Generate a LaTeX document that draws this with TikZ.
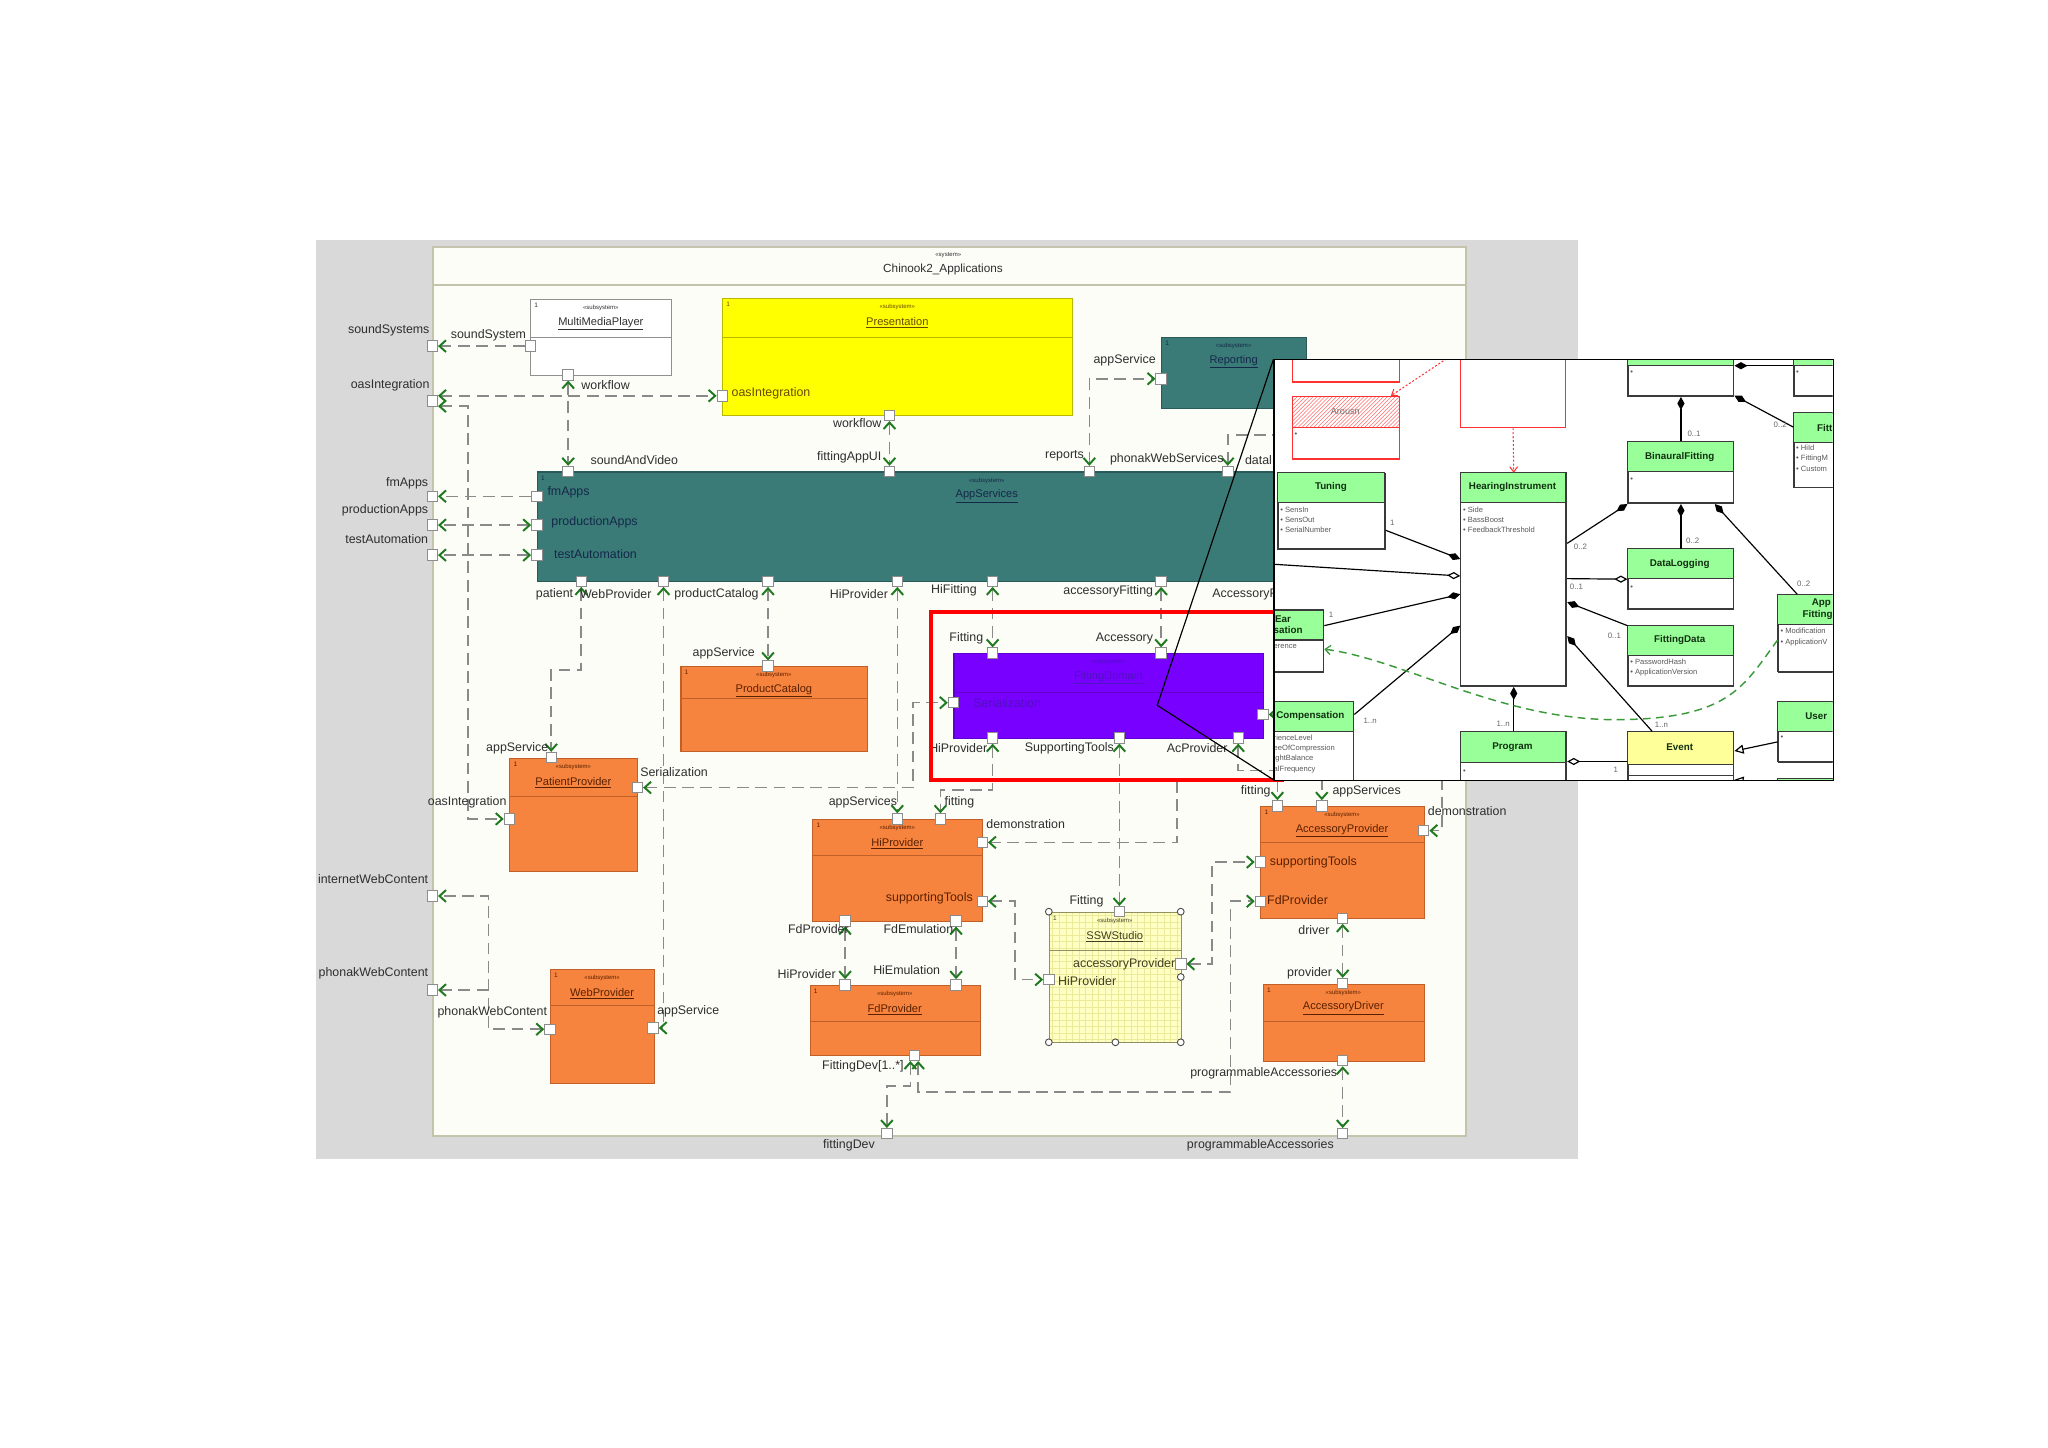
\documentclass[tikz,border=0pt]{standalone}
\usepackage{fontspec}
\setmainfont{Liberation Sans}
\usetikzlibrary{arrows.meta,patterns}
\definecolor{bgray}{HTML}{D9D9D9}
\definecolor{frameb}{HTML}{C4C4AC}
\definecolor{framef}{HTML}{FDFDF8}
\definecolor{lgray}{HTML}{8A8A8A}
\definecolor{arrg}{HTML}{1E7A1E}
\definecolor{portc}{HTML}{8C8C8C}
\definecolor{labc}{HTML}{2E2E2E}
\definecolor{whd}{HTML}{909090}\definecolor{whf}{HTML}{FFFFFF}\definecolor{wht}{HTML}{303030}
\definecolor{yed}{HTML}{B8B800}\definecolor{yef}{HTML}{FFFF00}\definecolor{yet}{HTML}{6A4A00}
\definecolor{ted}{HTML}{2A5A58}\definecolor{tef}{HTML}{3B7B77}\definecolor{tet}{HTML}{14284A}
\definecolor{ord}{HTML}{C06028}\definecolor{orf}{HTML}{F7843E}\definecolor{ort}{HTML}{5A2000}
\definecolor{ssd}{HTML}{909060}\definecolor{ssf}{HTML}{FFFFC4}\definecolor{sst}{HTML}{404020}
\definecolor{pud}{HTML}{6000D0}\definecolor{puf}{HTML}{7700FF}\definecolor{put}{HTML}{5210C0}
\definecolor{sswg}{HTML}{EAEA9A}
\definecolor{umlb}{HTML}{3A3A3A}
\definecolor{umlg}{HTML}{99FF99}
\definecolor{evy}{HTML}{FFFF99}
\definecolor{redb}{HTML}{FF3030}
\definecolor{curveg}{HTML}{3A9A3A}
\definecolor{umlt}{HTML}{103010}
\tikzset{
 tipg/.tip={Straight Barb[length=5pt,width=9pt,line width=1.5pt,color=arrg]},
 fdia/.tip={Diamond[length=10pt,width=5.5pt,color=black]},
 odia/.tip={Diamond[length=10pt,width=5.5pt,color=black,fill=white]},
 otri/.tip={Triangle[length=7pt,width=7pt,color=black,fill=white]},
 tipgc/.tip={Straight Barb[length=4pt,width=7pt,line width=1pt,color=curveg]},
 tipr/.tip={Straight Barb[length=4pt,width=6pt,line width=0.8pt,color=redb]},
 port/.style={draw=portc, fill=white, line width=0.7pt, minimum size=8pt, inner sep=0pt, rectangle},
 conn/.style={draw=lgray, line width=1.2pt, dash pattern=on 9pt off 5pt},
 lab/.style={font=\fontsize{9.5}{10}\selectfont, text=labc, inner sep=0pt},
 uml/.style={draw=black, line width=0.9pt},
 utitle/.style={font=\bfseries\fontsize{7.5}{8}\selectfont, text=umlt, inner sep=0pt},
 uattr/.style={font=\fontsize{5.8}{6}\selectfont, text=labc!80, inner sep=0pt, anchor=west},
 umult/.style={font=\fontsize{6}{6}\selectfont, text=black!60, inner sep=0pt},
 whbx/.style={draw=whd, fill=whf},
 yebx/.style={draw=yed, fill=yef},
 tebx/.style={draw=ted, fill=tef},
 orbx/.style={draw=ord, fill=orf},
 ssbx/.style={draw=ssd},
 pubx/.style={draw=pud, fill=puf},
}
\pgfdeclarelayer{back}
\pgfdeclarelayer{lines}
\pgfsetlayers{back,lines,main}
% subsystem box: name x1 y1 x2 y2 sepY style title
\newcommand{\ssbox}[8]{%
 \node[#7bx, line width=0.8pt, anchor=north west, minimum width={(#4-#2)*1pt}, minimum height={(#5-#3)*1pt}, inner sep=0pt] (#1) at (#2,#3) {};
 \draw[#7d, line width=0.6pt] (#2,#6) -- (#4,#6);
 \node[text=#7t, font=\fontsize{5}{5}\selectfont, anchor=north west, inner sep=0pt] (#1-one) at (#2+3,#3+3) {1};
 \node[text=#7t, font=\fontsize{4.6}{5}\selectfont, inner sep=0pt] (#1-st) at ({(#2+#4)/2},#3+7) {«subsystem»};
 \node[text=#7t, font=\fontsize{8.5}{9}\selectfont, inner sep=0pt] (#1-ti) at ({(#2+#4)/2},#3+19) {\underline{#8}};
}
% uml class: name x1 y1 x2 y2 headerY fill
\newcommand{\umlc}[7]{%
 \node[draw=umlb, fill=white, line width=0.9pt, anchor=north west, minimum width={(#4-#2)*1pt}, minimum height={(#5-#3)*1pt}, inner sep=0pt] (#1) at (#2,#3) {};
 \fill[#7] (#2,#3) rectangle (#4,#6);
 \draw[umlb, line width=0.9pt] (#2,#3) rectangle (#4,#5) (#2,#6) -- (#4,#6);
}
\newcommand{\lb}[6][]{\node[lab,anchor=#3,#1] (#2) at (#4,#5) {#6};}
\begin{document}
\begin{tikzpicture}[x=1pt,y=-1pt]
\useasboundingbox (0,0) rectangle (1568,1108);
\begin{pgfonlayer}{back}
\fill[white] (0,0) rectangle (1568,1108);
\fill[bgray] (242,184) rectangle (1208,887);
\node[draw=frameb, fill=framef, line width=1.5pt, anchor=north west, minimum width=791pt, minimum height=681pt, inner sep=0pt] (frame) at (331,188) {};
\draw[frameb, line width=1.5pt] (331,218) -- (1122,218);
\node[text=labc, font=\fontsize{4.6}{5}\selectfont, inner sep=0pt] (frame-st) at (726,195) {«system»};
\node[text=labc, font=\fontsize{9}{10}\selectfont, inner sep=0pt] (frame-ti) at (722,206) {Chinook2\_Applications};
\end{pgfonlayer}

% SSWStudio background with grid (drawn before its box)
\fill[ssf] (803,698) rectangle (904,798);
\begin{scope}
\clip (803.5,698.5) rectangle (903.5,797.5);
\foreach \gx in {806,811,...,901} \draw[sswg, line width=0.4pt] (\gx,698) -- (\gx,798);
\foreach \gy in {701,706,...,796} \draw[sswg, line width=0.4pt] (803,\gy) -- (904,\gy);
\end{scope}

% ---------- subsystems ----------
\ssbox{mmp}{406}{229}{514}{287}{258}{wh}{MultiMediaPlayer}
\ssbox{pres}{553}{228}{821}{318}{258}{ye}{Presentation}
\ssbox{rep}{889}{258}{1000}{312}{258}{te}{Reporting}
\ssbox{apps}{411}{361}{1100}{445}{361}{te}{AppServices}
\ssbox{pc}{521}{510}{664}{575}{535}{or}{ProductCatalog}
\ssbox{pp}{390}{580}{488}{667}{610}{or}{PatientProvider}
\ssbox{wp}{421}{742}{501}{829}{770}{or}{WebProvider}
\ssbox{hp}{622}{627}{752}{705}{655}{or}{HiProvider}
\ssbox{fdp}{620}{754}{750}{808}{782}{or}{FdProvider}
\ssbox{ssw}{803}{698}{904}{798}{728}{ss}{SSWStudio}
\ssbox{fd}{730}{500}{967}{565}{530}{pu}{FittingDomain}
\ssbox{ap}{965}{617}{1090}{703}{645}{or}{AccessoryProvider}
\ssbox{ad}{967}{753}{1090}{812}{782}{or}{AccessoryDriver}
\foreach \hx/\hy in {803/698,904/698,803/798,854/798,904/798,904/748}
  \draw[black!70, fill=white, line width=0.7pt] (\hx,\hy) circle (2.6pt);

% ---------- ports ----------
\foreach \n/\px/\py in {F_ss/331/265, F_oas/331/307, F_fm/331/380, F_pa/331/402, F_ta/331/425, F_iwc/331/686, F_pwc/331/758, F_fdev/679/868, F_pacc/1028/868,
 M_ss/406/265, M_wf/435/287, P_oas/553/303, P_wf/681/318, R_as/889/290,
 A_sav/435/361, A_fau/681/361, A_rep/834/361, A_pws/940/361, A_fm/411/380, A_pa/411/402, A_ta/411/425,
 A_pat/445/445, A_wp/508/445, A_pc/588/445, A_hp/687/445, A_hf/760/445, A_af/889/445,
 C_as/588/510, Q_as/422/580, Q_ser/488/603, Q_oas/390/627, W_pwc/421/788, W_as/500/787,
 H_as/687/627, H_fit/720/627, H_dem/752/645, H_st/752/690, H_fdp/647/705, H_fde/732/705,
 D_hp/647/754, D_he/732/754, D_fd/700/808, S_fit/857/698, S_hp/803/750, S_acc/904/738,
 G_fit/760/500, G_acc/889/500, G_left/730/538, G_right/967/547, G_hp/760/565, G_st/857/565, G_ac/948/565,
 K_fit/978/617, K_as/1012/617, K_dem/1090/636, K_st/965/660, K_fd/965/690, K_drv/1028/703,
 L_prov/1028/753, L_pa/1028/812}
  \node[port] (\n) at (\px,\py) {};

% ---------- connectors ----------
\coordinate (pwsEnd) at (990,333);
\coordinate (demTop) at (901,598);
\coordinate (wj) at (374,758);
\coordinate (kasTop) at (1012,596);
\coordinate (kdemTop) at (1104,596);
\coordinate (grEnd) at (990,547);
\begin{pgfonlayer}{lines}
\draw[conn,-tipg] (M_ss) -- (F_ss);
\draw[conn,tipg-tipg] ([yshift=4pt]F_oas.east) -- (P_oas);
\draw[conn,tipg-tipg] ([yshift=-4pt]F_oas.east) -- ++(23,0) |- (Q_oas);
\draw[conn,-tipg] (A_fm) -- (F_fm);
\draw[conn,tipg-tipg] (A_pa) -- (F_pa);
\draw[conn,tipg-tipg] (A_ta) -- (F_ta);
\draw[conn,tipg-tipg] (M_wf) -- (A_sav);
\draw[conn,tipg-tipg] (P_wf) -- (A_fau);
\draw[conn,tipg-tipg] (A_rep) |- (R_as);
\draw[conn,tipg-] (A_pws) |- (pwsEnd);
\draw[conn,tipg-tipg] (A_pat) -- (A_pat |- 0,513) -| (Q_as);
\draw[conn,tipg-tipg] (A_wp) -- (A_wp |- W_as) -- (W_as);
\draw[conn,tipg-tipg] (A_pc) -- (C_as);
\draw[conn,tipg-tipg] (A_hp) -- (H_as);
\draw[conn,tipg-tipg] (A_hf) -- (G_fit);
\draw[conn,tipg-tipg] (A_af) -- (G_acc);
\draw[conn,tipg-tipg] (Q_ser) -| (699,538) -- (G_left);
\draw[conn,tipg-tipg] (G_hp) -- (G_hp |- 0,605) -| (H_fit);
\draw[conn,tipg-tipg] (G_st) -- (S_fit);
\draw[conn,tipg-tipg] (G_ac) -- (G_ac |- 0,590) -| (K_fit);
\draw[conn,-tipg] (demTop) |- (H_dem);
\draw[conn,tipg-tipg] (H_st) -- ++(25,0) |- (S_hp);
\draw[conn,tipg-tipg] (S_acc) -- ++(24,0) |- (K_st);
\draw[conn,tipg-tipg] ([xshift=-3pt]D_fd.south) -- ++(0,19) -| (F_fdev);
\draw[conn,tipg-tipg] ([xshift=3pt]D_fd.south) |- (942,836) |- (K_fd);
\draw[conn,tipg-tipg] (H_fdp) -- (D_hp);
\draw[conn,tipg-tipg] (H_fde) -- (D_he);
\draw[conn,tipg-tipg] (K_drv) -- (L_prov);
\draw[conn,tipg-tipg] (L_pa) -- (F_pacc);
\draw[conn,tipg-tipg] (W_pwc) -| (wj) |- (F_iwc);
\draw[conn,-tipg] (wj) -- (F_pwc);
\draw[conn,-tipg] (kasTop) -- (K_as);
\draw[conn,-tipg] (kdemTop) |- (K_dem);
\draw[conn,-tipg] (grEnd) -- (G_right);
\end{pgfonlayer}

% ---------- labels ----------
\lb{l01}{east}{329}{253}{soundSystems}
\lb{l02}{east}{329}{295}{oasIntegration}
\lb{l03}{east}{328}{370}{fmApps}
\lb{l04}{east}{328}{391}{productionApps}
\lb{l05}{east}{328}{413}{testAutomation}
\lb{l06}{east}{328}{673}{internetWebContent}
\lb{l07}{east}{328}{745}{phonakWebContent}
\lb{l08}{center}{650}{877}{fittingDev}
\lb{l09}{center}{965}{877}{programmableAccessories}
\lb{l10}{west}{345}{257}{soundSystem}
\lb{l11}{west}{445}{295}{workflow}
\lb[text=yet]{l12}{west}{560}{301}{oasIntegration}
\lb{l13}{east}{675}{324}{workflow}
\lb{l14}{east}{885}{276}{appService}
\lb{l15}{west}{452}{352}{soundAndVideo}
\lb{l16}{east}{675}{350}{fittingAppUI}
\lb{l17}{east}{830}{349}{reports}
\lb{l18}{east}{937}{352}{phonakWebServices}
\lb{l19}{west}{953}{352}{datal}
\lb[text=tet]{l20}{west}{419}{377}{fmApps}
\lb[text=tet]{l21}{west}{422}{400}{productionApps}
\lb[text=tet]{l22}{west}{424}{424}{testAutomation}
\lb{l23}{east}{439}{455}{patient}
\lb{l24}{east}{499}{455}{WebProvider}
\lb{l25}{east}{581}{455}{productCatalog}
\lb{l26}{east}{680}{455}{HiProvider}
\lb{l27}{east}{748}{452}{HiFitting}
\lb{l28}{east}{883}{453}{accessoryFitting}
\lb{l29}{west}{928}{455}{AccessoryP}
\lb{l30}{east}{578}{500}{appService}
\lb{l31}{east}{420}{573}{appService}
\lb{l32}{west}{490}{591}{Serialization}
\lb{l33}{east}{388}{614}{oasIntegration}
\lb{l34}{east}{419}{775}{phonakWebContent}
\lb{l35}{west}{503}{774}{appService}
\lb{l36}{east}{687}{614}{appServices}
\lb{l37}{west}{723}{614}{fitting}
\lb{l38}{west}{755}{631}{demonstration}
\lb[text=ort]{l39}{east}{745}{688}{supportingTools}
\lb{l40}{east}{650}{711}{FdProvider}
\lb{l41}{east}{730}{711}{FdEmulation}
\lb{l42}{east}{640}{746}{HiProvider}
\lb{l43}{east}{720}{743}{HiEmulation}
\lb{l44}{east}{692}{816}{FittingDev[1..*]}
\lb{l45}{east}{845}{690}{Fitting}
\lb[text=sst]{l46}{east}{900}{738}{accessoryProvider}
\lb[text=sst]{l47}{west}{810}{751}{HiProvider}
\lb{l48}{east}{753}{489}{Fitting}
\lb{l49}{east}{883}{489}{Accessory}
\lb{l50}{east}{756}{573}{HiProvider}
\lb{l51}{east}{853}{573}{SupportingTools}
\lb{l52}{east}{940}{573}{AcProvider}
\lb[text=put]{l53}{west}{745}{538}{Serialization}
\lb{l54}{east}{973}{606}{fitting}
\lb{l55}{west}{1020}{606}{appServices}
\lb{l56}{west}{1093}{621}{demonstration}
\lb[text=ort]{l57}{west}{972}{660}{supportingTools}
\lb[text=ort]{l58}{west}{970}{689}{FdProvider}
\lb{l59}{east}{1018}{712}{driver}
\lb{l60}{east}{1020}{745}{provider}
\lb{l61}{east}{1024}{822}{programmableAccessories}

% ---------- highlight and callout ----------
\node[draw=red, line width=3pt, anchor=north west, minimum width=269pt, minimum height=129pt, inner sep=0pt] (hl) at (711,467) {};
\coordinate (cTL) at (975,275);
\coordinate (cP) at (886,540);
\coordinate (cBL) at (975,597);
\draw[black, line width=0.9pt] (cTL) -- (cP) -- (cBL);

% ---------- inset ----------
\begin{scope}
\clip (975,275) rectangle (1403,597);
\fill[white] (975,275) rectangle (1403,597);
\node[draw=redb, line width=0.9pt, anchor=north west, minimum width=82pt, minimum height=24pt, inner sep=0pt] (rA) at (989,268) {};
\node[draw=redb, line width=0.9pt, pattern=north east lines, pattern color=redb!70, anchor=north west, minimum width=82pt, minimum height=24pt, inner sep=0pt] (arh) at (989,303) {};
\node[draw=redb, line width=0.9pt, anchor=north west, minimum width=82pt, minimum height=24pt, inner sep=0pt] (arb) at (989,327) {};
\node[text=black!55, font=\fontsize{7}{7}\selectfont, inner sep=0pt] (art) at (1030,315) {Arousn};
\node[uattr] (arbul) at (991,333) {•};
\node[draw=redb, line width=0.9pt, anchor=north west, minimum width=80pt, minimum height=60pt, inner sep=0pt] (rB) at (1118,267) {};
\coordinate (rdS) at (1110,273);

\umlc{tun}{978}{362}{1060}{420}{385}{umlg}
\umlc{hi}{1118}{362}{1199}{525}{385}{umlg}
\umlc{ear}{955}{467}{1013}{514}{490}{umlg}
\umlc{comp}{955}{537}{1036}{610}{560}{umlg}
\umlc{prog}{1118}{560}{1199}{610}{584}{umlg}
\umlc{topA}{1246}{262}{1327}{303}{280}{umlg}
\umlc{topB}{1373}{262}{1415}{303}{280}{umlg}
\umlc{fitt}{1373}{316}{1415}{373}{339}{umlg}
\umlc{bf}{1246}{338}{1327}{385}{361}{umlg}
\umlc{dl}{1246}{420}{1327}{466}{443}{umlg}
\umlc{fdt}{1246}{479}{1327}{525}{502}{umlg}
\umlc{ev}{1246}{560}{1327}{610}{585}{evy}
\umlc{apf}{1361}{455}{1415}{514}{478}{umlg}
\umlc{ue}{1361}{537}{1415}{583}{560}{umlg}
\umlc{bot}{1361}{596}{1415}{620}{606}{umlg}
\draw[umlb, line width=0.9pt] (1246,594) -- (1327,594);

\draw[redb, line width=0.8pt, dash pattern=on 1.5pt off 1.5pt, -tipr] (rdS) -- ([xshift=-7pt]arh.north east);
\draw[redb, line width=0.8pt, dash pattern=on 1.5pt off 1.5pt, -tipr] (rB.south) -- (hi.north);

\node[utitle] (tun-t) at (1019,373) {Tuning};
\node[uattr] (tun-a1) at (980,390) {• SensIn};
\node[uattr] (tun-a2) at (980,398) {• SensOut};
\node[uattr] (tun-a3) at (980,406) {• SerialNumber};
\node[utitle] (hi-t) at (1158,373) {HearingInstrument};
\node[uattr] (hi-a1) at (1120,390) {• Side};
\node[uattr] (hi-a2) at (1120,398) {• BassBoost};
\node[uattr] (hi-a3) at (1120,406) {• FeedbackThreshold};
\node[utitle, anchor=west] (ear-t1) at (976,474) {Ear};
\node[utitle, anchor=west] (ear-t2) at (975,482) {sation};
\node[uattr] (ear-a1) at (975,495) {erence};
\node[utitle, anchor=west] (comp-t) at (977,548) {Compensation};
\node[uattr] (comp-a1) at (975,565) {rienceLevel};
\node[uattr] (comp-a2) at (975,573) {eeOfCompression};
\node[uattr] (comp-a3) at (975,581) {ightBalance};
\node[uattr] (comp-a4) at (975,589) {alFrequency};
\node[utitle] (prog-t) at (1158,572) {Program};
\node[uattr] (prog-a) at (1120,591) {•};
\node[uattr] (topA-a) at (1248,285) {•};
\node[uattr] (topB-a) at (1375,285) {•};
\node[utitle, anchor=west] (fitt-t) at (1391,328) {Fitt};
\node[uattr] (fitt-a1) at (1375,343) {• HiId};
\node[uattr] (fitt-a2) at (1375,351) {• FittingM};
\node[uattr] (fitt-a3) at (1375,359) {• Custom};
\node[utitle] (bf-t) at (1286,350) {BinauralFitting};
\node[uattr] (bf-a) at (1248,367) {•};
\node[utitle] (dl-t) at (1286,432) {DataLogging};
\node[uattr] (dl-a) at (1248,450) {•};
\node[utitle] (fdt-t) at (1286,490) {FittingData};
\node[uattr] (fdt-a1) at (1248,507) {• PasswordHash};
\node[uattr] (fdt-a2) at (1248,515) {• ApplicationVersion};
\node[utitle] (ev-t) at (1286,572) {Event};
\node[utitle, anchor=west] (apf-t1) at (1387,462) {App};
\node[utitle, anchor=west] (apf-t2) at (1380,471) {Fitting};
\node[uattr] (apf-a1) at (1363,483) {• Modification};
\node[uattr] (apf-a2) at (1363,492) {• ApplicationV};
\node[utitle, anchor=west] (ue-t) at (1382,548) {User};
\node[uattr] (ue-a) at (1363,565) {•};

\coordinate (lftA) at (975,432);
\draw[uml,-fdia] (tun.east |- 0,406) -- (hi.west |- 0,428);
\draw[uml,-odia] (lftA) -- (hi.west |- 0,441);
\draw[uml,-fdia] (ear.east |- 0,479) -- (hi.west |- 0,455);
\draw[uml,-fdia] (comp.east |- 0,547) -- (hi.west |- 0,479);
\draw[uml,-fdia] (prog.north) -- (hi.south);
\draw[uml,fdia-] (topA.east |- 0,280) -- (topB.west |- 0,280);
\draw[uml,fdia-] ([yshift=1pt]topA.south east) -- (fitt.west |- 0,327);
\draw[uml,fdia-] (topA.south) -- (bf.north);
\draw[uml,fdia-] (bf.south west) -- (hi.east |- 0,416);
\draw[uml,fdia-] (bf.south) -- (dl.north);
\draw[uml,fdia-] ([xshift=-15pt]bf.south east) -- ([xshift=15pt]apf.north west);
\draw[uml,-odia] (hi.east |- 0,443) -- (dl.west);
\draw[uml,fdia-] (hi.east |- 0,461) -- (fdt.north west);
\draw[uml,fdia-] (hi.east |- 0,487) -- ([xshift=19pt]ev.north west);
\draw[uml,odia-] (prog.east |- 0,583) -- (ev.west |- 0,583);
\draw[uml,-otri] (ue.west |- 0,568) -- (ev.east |- 0,575);
\draw[uml,-otri] (bot.west |- 0,602) -- (ev.east |- 0,597);
\draw[curveg, line width=1.1pt, dash pattern=on 6pt off 4pt, -tipgc] (apf.west |- 0,490) .. controls (1335,525) and (1325,550) .. (1240,551) .. controls (1150,552) and (1075,505) .. (ear.east |- 0,497);

\node[umult] (m01) at (1066,400) {1};
\node[umult] (m02) at (1019,471) {1};
\node[umult] (m03) at (1049,552) {1..n};
\node[umult, anchor=east] (m04) at (1156,554) {1..n};
\node[umult] (m05) at (1363,325) {0..2};
\node[umult] (m06) at (1297,332) {0..1};
\node[umult] (m07) at (1210,419) {0..2};
\node[umult] (m08) at (1296,414) {0..2};
\node[umult] (m09) at (1381,447) {0..2};
\node[umult] (m10) at (1207,449) {0..1};
\node[umult] (m11) at (1236,487) {0..1};
\node[umult] (m12) at (1272,555) {1..n};
\node[umult] (m13) at (1237,589) {1};
\end{scope}
\node[draw=black, line width=1pt, anchor=north west, minimum width=428pt, minimum height=322pt, inner sep=0pt] (inset) at (975,275) {};
\end{tikzpicture}
\end{document}
